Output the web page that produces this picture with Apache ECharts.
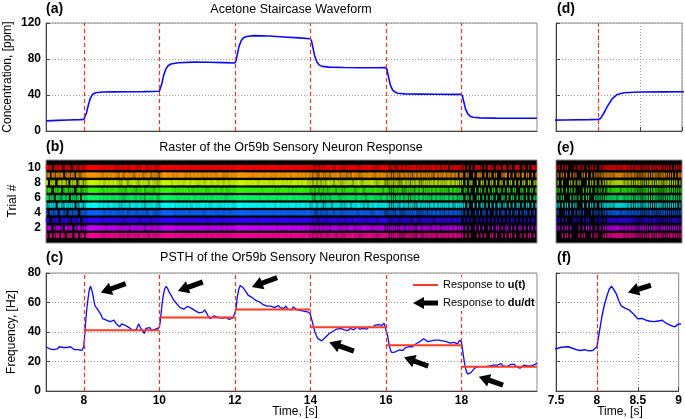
<!DOCTYPE html>
<html><head><meta charset="utf-8">
<script src="https://cdn.jsdelivr.net/npm/echarts@6/dist/echarts.min.js"></script>
<style>html,body{margin:0;padding:0;background:#fff}#c{width:685px;height:419px}</style>
</head><body><div id="c"></div>
<script>
// ---------------- DATA ----------------
const switchTimes = [8, 10, 12, 14, 16, 18];
const xTicksMain = [8, 10, 12, 14, 16, 18];
const xTicksZoom = [7.5, 8, 8.5, 9];
const yTicksConc = [0, 40, 80, 120];
const yTicksTrial = [2, 4, 6, 8, 10];
const yTicksFreq = [0, 20, 40, 60, 80];

// (a) acetone concentration, ppm
const concTime = [7.0,7.3,7.6,7.9,8.0,8.03,8.07,8.11,8.17,8.23,8.31,8.5,8.8,9.2,9.6,10.0,
  10.03,10.07,10.11,10.17,10.23,10.31,10.5,10.9,11.3,11.7,12.0,
  12.03,12.07,12.11,12.17,12.23,12.31,12.5,12.9,13.3,13.7,14.0,
  14.03,14.07,14.11,14.17,14.23,14.31,14.5,14.9,15.3,15.7,16.0,
  16.03,16.07,16.11,16.17,16.23,16.31,16.5,16.9,17.3,17.7,18.0,
  18.03,18.07,18.11,18.17,18.23,18.31,18.5,18.9,19.3,19.7,20.0];
const concValue = [11.3,11.8,12.2,12.6,12.8,14,20,27,36,40.6,42.5,43.3,43.5,43.6,43.8,44.2,
  46,53,61,68.5,72.5,74.5,75.8,76.5,76.4,76,75.6,
  78,86,94,100.5,103.5,105,106,105.5,104.5,103.5,102.5,
  100,92,84,77,73.5,71.8,71,70.5,70.3,70.2,70.5,
  68,60,52,46,43.5,42,41.2,41,40.8,40.7,40.8,
  38,31,24,19,16.5,15.3,14.6,14.3,14.2,14.1,14.1];

// (b) spike counts per 50 ms bin, 7.0 s .. 20.0 s, trials 1..10 (one group = 1 s)
const binStart = 7.0, binWidth = 0.05;
const trialBins = [
 "10201120210121012012 02344434322232322322 22312222223222132222 24434334232322323232 23232232232232232223 34434343333323333333 23323332323333232332 21212122212221222122 22322212222322212222 21111211111212111211 12121211212121212121 10101000101010011010 01010110100101011010",
 "12101121102121011211 12444333323223232222 22221322232212221322 23443343322323232323 22323222322322322322 34433433333332333333 33232323332323323232 12121212221222212221 22212222322212222221 11121111211212111211 21211212112121212112 10101001010100101011 01011010101101010101",
 "21011210212110211201 21343444322323222232 21222232221322212322 23434343323232233232 32232223232322232232 34344433333233333332 32323333232332323323 21211221212222122212 22132222212222212322 21111211121211121112 12121112121212112121 01010100101010101010 10101011010101010110",
 "10211201211021121012 12344343332232232222 22312222132221232212 23443433232332322323 23222332322232232223 33444333323333333323 23332332323232332333 22112122122212221222 22222132222212232221 11211121111212121111 21121212121121212121 10101001010110100101 01101010110101101010",
 "11212012112121201121 13434443232322322221 22221322232212222312 14343334232323232232 22332322232223232322 24443343333333323333 32332323233323233232 12212211222122221212 21222322121222322222 21111211212112111212 12112121212121211212 11010010101101010101 10110101011010110101",
 "21120121121201211202 22443434232323222322 21222321322213222321 23444333323232323322 32223232232323222323 33443433333332333233 33232332333233232323 21122121221222212222 22221322212232222122 12111121212111212121 21211212121221212112 10110100110101011010 01101011010110101011",
 "12101212012112101211 21344343322323223222 22132221222312222132 24343433232323323223 23232223322322322232 34434333333333233333 32323333232323333232 12121212212221222122 22212232122222322212 21111212111212112121 12121212121211212121 01101001011010101101 10101101100110101101",
 "20121012121102120121 12344433232232323221 23212232213222132221 23434323332322332332 22322332232232232232 33444333333323333323 23333232323332323322 21212122132212221222 22122321222232212221 11211211121211212111 21212121212122121211 10101100101101011010 11010110101011011011",
 "12021121201211202112 23434433322323232213 21322212323122312221 13443332323332232323 23223232322332222323 24443433323333323332 32332323323332323232 21211221221222312221 21322212222322132222 12111211212121121212 12121121212212121202 10110010121010110110 01120101011020110101",
 "21201212102120121121 13443343232232322122 22312232122321223212 24433332333223323232 32232323232223322322 34443333332333332333 33232333233232332323 22121212232212322122 22232122322322122232 21121112121212221212 21212212112120212121 11010101211010211011 10210110121011010121"
];
const trialColors = ['#ff0099','#cc00ff','#3300ff','#0066ff','#00ffff','#00ff66','#33ff00','#ccff00','#ff9900','#ff0000'];

// (c) PSTH, Hz
const psthTime = [
 7.00,7.05,7.10,7.15,7.20,7.25,7.30,7.35,7.40,7.45,7.50,7.55,7.60,7.65,7.70,7.75,7.80,7.85,7.90,7.95,
 8.00,8.03,8.06,8.09,8.12,8.15,8.18,8.21,8.24,8.27,8.30,8.35,8.40,8.45,8.50,8.55,8.60,8.65,8.70,8.75,8.80,8.85,8.90,8.95,
 9.00,9.05,9.10,9.15,9.20,9.25,9.30,9.35,9.40,9.45,9.50,9.55,9.60,9.65,9.70,9.75,9.80,9.85,9.90,9.95,
 10.00,10.03,10.06,10.10,10.14,10.18,10.22,10.26,10.30,10.35,10.40,10.45,10.50,10.55,10.60,10.65,10.70,10.75,10.80,10.85,10.90,10.95,
 11.00,11.05,11.10,11.15,11.20,11.25,11.30,11.35,11.40,11.45,11.50,11.55,11.60,11.65,11.70,11.75,11.80,11.85,11.90,11.95,
 12.00,12.03,12.06,12.10,12.14,12.18,12.22,12.26,12.30,12.35,12.40,12.45,12.50,12.55,12.60,12.65,12.70,12.75,12.80,12.85,12.90,12.95,
 13.00,13.05,13.10,13.15,13.20,13.25,13.30,13.35,13.40,13.45,13.50,13.55,13.60,13.65,13.70,13.75,13.80,13.85,13.90,13.95,
 14.00,14.04,14.08,14.12,14.16,14.20,14.25,14.30,14.35,14.40,14.45,14.50,14.55,14.60,14.65,14.70,14.75,14.80,14.85,14.90,14.95,
 15.00,15.05,15.10,15.15,15.20,15.25,15.30,15.35,15.40,15.45,15.50,15.55,15.60,15.65,15.70,15.75,15.80,15.85,15.90,15.95,
 16.00,16.04,16.08,16.12,16.16,16.20,16.25,16.30,16.35,16.40,16.45,16.50,16.55,16.60,16.65,16.70,16.75,16.80,16.85,16.90,16.95,
 17.00,17.05,17.10,17.15,17.20,17.25,17.30,17.35,17.40,17.45,17.50,17.55,17.60,17.65,17.70,17.75,17.80,17.85,17.90,17.95,
 18.00,18.04,18.08,18.12,18.16,18.20,18.25,18.30,18.35,18.40,18.45,18.50,18.55,18.60,18.65,18.70,18.75,18.80,18.85,18.90,18.95,
 19.00,19.05,19.10,19.15,19.20,19.25,19.30,19.35,19.40,19.45,19.50,19.55,19.60,19.65,19.70,19.75,19.80,19.85,19.90,19.95,20.00];
const psthValue = [
 30,29.5,28.5,29,28,27.5,28.5,30,29,29.5,28.5,29.5,29.8,30,29,28,27.5,28,27.2,27.5,
 30,40,50,58,64,69,71,68.5,65.5,61,57.5,56,54.8,52,49,49.2,48,47.3,47,47.5,48,45.8,44.5,43.5,
 45.5,45,44.5,43.5,43,42,41,40,42,45.5,43,42,39,42.5,41.5,43,41,40.5,42,41.5,
 43,48,56,64,69,71,69.5,67,65.5,63,61,59.5,58,56.5,57,55.5,56,57.5,58,56,55,54.5,
 53.5,53,52,53.5,55,53,50.5,49,50,51,51.5,50,50.5,49.5,50.5,50,49,48.5,48.5,49.5,
 49,55,63,68.5,71.5,71,70,68.5,67,65,64.5,63.5,62.5,61.5,61,60.5,59.5,58.5,58,57.5,58,57.5,
 57,56.5,57.5,58,56.5,57,56,57.5,55.5,56,55,57,56,55,55.5,54.5,55,54,54,53.5,
 52,48,44,40,37.5,35.5,34.5,34,35,36.5,37.5,39,40,40.5,41.5,42,41,42.5,43,41.5,42,
 41,42.5,43,41.5,42,43.5,42,41,42.5,43,42,43.5,44,43,44.5,44,45,45.5,44.5,46,
 45.5,38,32,27.5,26,25.5,26.5,27.5,27.8,28,27.5,29,28.5,30,30.5,30,31,32,32.5,33.5,34,
 35.5,34.5,33.5,33,34,33.5,34.5,35,34.5,35.5,34,35,33.5,33,32.5,32,33,32.5,32,34.5,
 33,26,19,14,11.5,11,12.5,14,15.5,16,16.5,17,16.5,17.5,16.5,16.8,17,16.5,17.5,18,17.5,
 18.5,18.5,17,16.5,16.5,17.5,18,17.5,18,16.5,16,15.5,16.5,17.5,16.5,17,16.5,17,17,18,19];

// steady-state response levels (red steps), Hz
const stepStart = [8, 10, 12, 14, 16, 18];
const stepEnd   = [10, 12, 14, 16, 18, 20];
const stepLevel = [41.2, 49.8, 55.2, 43.3, 31.1, 16.4];

// arrows: [tailTime, tailHz, headTime, headHz]
const arrowsC = [[9.11,72.8,8.45,66.7],[11.15,73.9,10.49,67.8],[13.12,76.9,12.45,70.5],
                 [15.15,27.0,14.50,33.0],[17.12,16.9,16.48,22.8],[19.10,4.0,18.46,9.7]];
const arrowsF = [[8.66,71.7,8.38,66.7]];

// ---------------- CHART ----------------
const FONT = "'Liberation Sans', Arial, Helvetica, sans-serif";
const zip = (a, b) => a.map((v, i) => [v, b[i]]);
const concData = zip(concTime, concValue);
const psthData = zip(psthTime, psthValue);

function spikes(str, trial) {
  const s = str.replace(/\s+/g, '');
  const out = [];
  for (let b = 0; b < s.length; b++) {
    const n = +s[b];
    for (let k = 0; k < n; k++) out.push([binStart + (b + (k + 0.5) / n) * binWidth, trial]);
  }
  return out;
}
const spikeData = trialBins.map((s, i) => spikes(s, i + 1));

const stepData = [];
stepStart.forEach((s, i) => { stepData.push([s, stepLevel[i]], [stepEnd[i], stepLevel[i]], [stepEnd[i], '-']); });

const grids = [
  {left:46, top:23, width:491, height:108},
  {left:46, top:160, width:491, height:83},
  {left:46, top:273, width:491, height:118},
  {left:556, top:23, width:126, height:108},
  {left:556, top:160, width:126, height:83},
  {left:556, top:273, width:126, height:118}
].map((g, i) => Object.assign({show:true, borderColor:'#8a8a8a', borderWidth:1,
   backgroundColor: (i === 1 || i === 4) ? '#000' : '#fff'}, g));

const labelStyle = {color:'#000', fontSize:12, fontWeight:'bold', fontFamily:FONT};
const dotted = {show:true, lineStyle:{color:'#9a9a9a', type:[1,2], width:1}};

function xAx(gi, zoom, labels, raster) {
  const ax = {gridIndex:gi, type:'value', min: zoom ? 7.5 : 7, max: zoom ? 9 : 20, interval: zoom ? 0.5 : 1,
    axisLine:{show:!raster, onZero:false, lineStyle:{color:'#444'}},
    axisTick:{show:!raster, inside:true, length:4, lineStyle:{color:'#444'}},
    axisLabel:Object.assign({show:labels, margin:4}, labelStyle),
    splitLine: zoom && !raster ? dotted : {show:false}};
  if (!zoom) {
    ax.axisTick.customValues = xTicksMain;
    ax.axisLabel.customValues = xTicksMain;
    ax.axisLabel.formatter = v => xTicksMain.includes(v) ? String(v) : '';
  } else {
    ax.axisLabel.formatter = v => xTicksZoom.includes(v) ? String(v) : '';
  }
  return ax;
}
function yAx(gi, min, max, interval, ticks, labels, raster) {
  return {gridIndex:gi, type:'value', min, max, interval,
    axisLine:{show:!raster, onZero:false, lineStyle:{color:'#444'}},
    axisTick:{show:!raster, inside:true, length:4, lineStyle:{color:'#444'}},
    axisLabel:Object.assign({show:labels, margin:5, formatter: v => ticks.includes(v) ? String(v) : ''}, labelStyle),
    splitLine: raster ? {show:false} : dotted};
}

const redDash = (xs) => ({silent:true, symbol:['none','none'], label:{show:false}, animation:false,
  lineStyle:{color:'#f0341f', type:[4,3], width:1.2}, emphasis:{disabled:true},
  data: xs.map(x => ({xAxis:x}))});

function arrowItem(params, api) {
  const a = api.coord([api.value(0), api.value(1)]);
  const b = api.coord([api.value(2), api.value(3)]);
  const dx = b[0]-a[0], dy = b[1]-a[1], L = Math.hypot(dx, dy);
  const ux = dx/L, uy = dy/L, nx = -uy, ny = ux;
  const hl = 11, hw = 6.5, sw = 2.6;
  const k = [b[0]-ux*hl, b[1]-uy*hl];
  return {type:'polygon', shape:{points:[
    [a[0]+nx*sw, a[1]+ny*sw], [k[0]+nx*sw, k[1]+ny*sw], [k[0]+nx*hw, k[1]+ny*hw], [b[0], b[1]],
    [k[0]-nx*hw, k[1]-ny*hw], [k[0]-nx*sw, k[1]-ny*sw], [a[0]-nx*sw, a[1]-ny*sw]]},
    style:{fill:'#000'}};
}

const series = [];
series.push({type:'line', xAxisIndex:0, yAxisIndex:0, data:concData, showSymbol:false, symbol:'none',
  lineStyle:{color:'#0a0aff', width:1.6}, markLine:redDash(switchTimes), z:3});
series.push({type:'line', xAxisIndex:3, yAxisIndex:3, data:concData, showSymbol:false, symbol:'none',
  lineStyle:{color:'#0a0aff', width:1.6}, markLine:redDash([8]), z:3});
spikeData.forEach((d, i) => {
  series.push({type:'scatter', xAxisIndex:1, yAxisIndex:1, data:d, symbol:'rect', symbolSize:[1.35,5],
    itemStyle:{color:trialColors[i]}, silent:true, clip:true});
  series.push({type:'scatter', xAxisIndex:4, yAxisIndex:4, data:d, symbol:'rect', symbolSize:[1.2,5],
    itemStyle:{color:trialColors[i]}, silent:true, clip:true});
});
series.push({type:'line', xAxisIndex:2, yAxisIndex:2, data:psthData, showSymbol:false, symbol:'none',
  lineStyle:{color:'#0a0aff', width:1.3}, markLine:redDash(switchTimes), z:3});
series.push({type:'line', xAxisIndex:2, yAxisIndex:2, data:stepData, showSymbol:false, symbol:'none',
  connectNulls:false, lineStyle:{color:'#ff3b25', width:2}, z:4});
series.push({type:'custom', xAxisIndex:2, yAxisIndex:2, data:arrowsC, renderItem:arrowItem,
  encode:{x:[0,2], y:[1,3]}, silent:true, z:5, clip:false});
series.push({type:'line', xAxisIndex:5, yAxisIndex:5, data:psthData, showSymbol:false, symbol:'none',
  lineStyle:{color:'#0a0aff', width:1.4}, markLine:redDash([8]), z:3});
series.push({type:'custom', xAxisIndex:5, yAxisIndex:5, data:arrowsF, renderItem:arrowItem,
  encode:{x:[0,2], y:[1,3]}, silent:true, z:5, clip:false});

function txt(text, x, y, opts) {
  return Object.assign({type:'text', x, y, silent:true, z:100,
    style:Object.assign({text, fill:'#000', fontFamily:FONT, fontSize:12.5,
      textAlign:'center', align:'center', textVerticalAlign:'middle', verticalAlign:'middle'}, (opts && opts.style) || {})},
    opts && opts.rotation ? {rotation:opts.rotation} : {});
}
const bold = {style:{fontSize:14, fontWeight:'bold', textAlign:'left', align:'left'}};
const graphic = [
  txt('(a)', 46, 9, bold), txt('Acetone Staircase Waveform', 291, 10),
  txt('(d)', 557, 9, bold),
  txt('(b)', 46, 147, bold), txt('Raster of the Or59b Sensory Neuron Response', 291, 148),
  txt('(e)', 557, 148, bold),
  txt('(c)', 46, 258, bold), txt('PSTH of the Or59b Sensory Neuron Response', 290, 258),
  txt('(f)', 557, 258, bold),
  txt('Concentration, [ppm]', 8, 77, {rotation:Math.PI/2, style:{fontSize:12}}),
  txt('Trial #', 13, 201, {rotation:Math.PI/2, style:{fontSize:12}}),
  txt('Frequency, [Hz]', 12, 332, {rotation:Math.PI/2, style:{fontSize:12}}),
  txt('Time, [s]', 295, 412, {style:{fontSize:12}}),
  txt('Time, [s]', 620, 412, {style:{fontSize:12}}),
  // legend
  {type:'rect', shape:{x:407, y:277, width:127, height:34}, style:{fill:'#fff'}, z:90, silent:true},
  {type:'line', shape:{x1:413, y1:285, x2:438, y2:285}, style:{stroke:'#ff3b25', lineWidth:2}, z:95, silent:true},
  {type:'polygon', shape:{points:[[438,300.5],[424,300.5],[424,297],[413,303],[424,309],[424,305.5],[438,305.5]]},
    style:{fill:'#000'}, z:95, silent:true},
  {type:'text', x:443, y:285, z:100, silent:true, style:{text:'{n|Response to }{b|u(t)}', fill:'#000',
    textVerticalAlign:'middle', verticalAlign:'middle',
    rich:{n:{fontSize:11, fontFamily:FONT}, b:{fontSize:11, fontWeight:'bold', fontFamily:FONT}}}},
  {type:'text', x:443, y:303, z:100, silent:true, style:{text:'{n|Response to }{b|du/dt}', fill:'#000',
    textVerticalAlign:'middle', verticalAlign:'middle',
    rich:{n:{fontSize:11, fontFamily:FONT}, b:{fontSize:11, fontWeight:'bold', fontFamily:FONT}}}}
];

const chart = echarts.init(document.getElementById('c'), null, {renderer:'canvas'});
chart.setOption({
  animation:false,
  backgroundColor:'#fff',
  grid:grids,
  xAxis:[xAx(0,false,false,false), xAx(1,false,false,true), xAx(2,false,true,false),
         xAx(3,true,false,false), xAx(4,true,false,true), xAx(5,true,true,false)],
  yAxis:[yAx(0,0,120,40,yTicksConc,true,false), yAx(1,0,11,1,yTicksTrial,true,true), yAx(2,0,80,20,yTicksFreq,true,false),
         yAx(3,0,120,40,yTicksConc,false,false), yAx(4,0,11,1,yTicksTrial,false,true), yAx(5,0,80,20,yTicksFreq,false,false)],
  series, graphic
});
</script></body></html>
